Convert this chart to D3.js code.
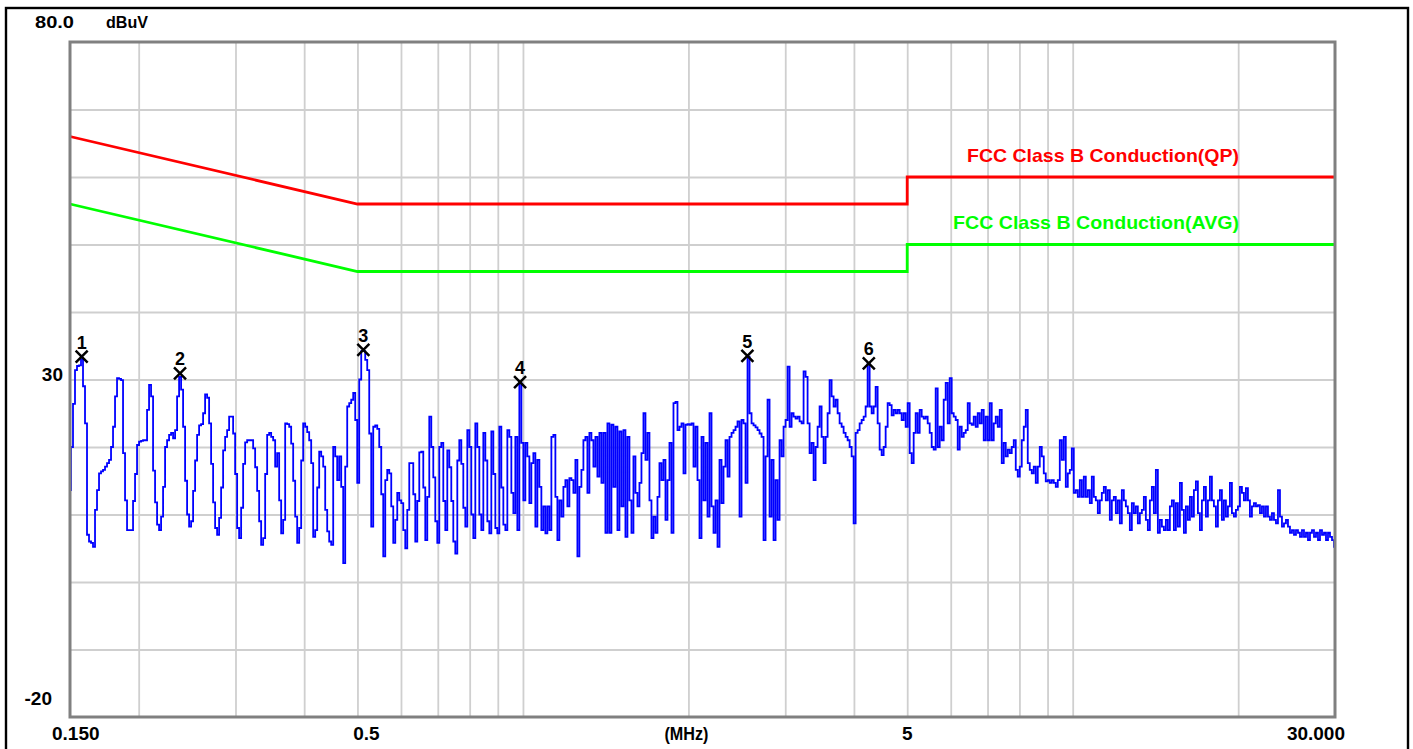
<!DOCTYPE html>
<html><head><meta charset="utf-8">
<script src="https://cdn.jsdelivr.net/npm/d3@7"></script>
<style>
body{margin:0;background:#fff;}
svg{display:block;}
text{font-family:"Liberation Sans",Arial,sans-serif;font-weight:bold;}
</style>
</head><body><svg id="c" width="1413" height="749"></svg>
<script>
// ---- Measured trace levels (dBuV), read left-to-right along the sweep ----
const traceA=[13.6,20,26.4,31.4,32,32.1,33,29,23.5,7,
6,5.8,5.2,10.7,13.6,16.1,16.4,16.6,17.1,17.6,
18.1,20,23,27.5,30.2,30.1,29.9,19.1,12.1,7.7,
7.7,7.7,12,16,20.3,20.8,20.9,21,21,25.5,
29.2,27.5,16.5,11.8,8.5,7.7,9.7,14.1,20,21,
21.8,22.1,21.3,22.5,27.5,30.4,28.5,23,15,10,
8.2,9,13.5,18,21.8,23.2,23.4,25,27.8,27.3,
23.5,17.5,11.8,8,7,9.5,14,19.5,21.5,22.5,
24.5,24.5,22,16,8,6.5,11,17.5,20.7,21,
21,21,19.8,17,13.5,9,5.5,6.5,16,21.8,
22.1,21.5,21,17.1,19.1,12.1,7.2,9.2,23.5,23.4,
23,20.5,15,9.7,5.8];
const traceB=[8,18,23.5,23,22.2,21,17.6,6.7,7.7,14,
19.3,18.6,17.1,10.7,7.5,6,5.5,20,18.6,15.1,
18.6,14.1,2.8,17.1,26,26.5,27,28,24,14.7,
30,34.2,34.2,32.9,31.4,22,8.2,23,23.2,22.7,
20,13,3.8,15.1,16.6,16.1,11.2,5.8,9.2,13.2,
12.1,11.7,7.7,5,10.7,17.6,17.6,13,6,12,
19.2,19.3,14,6.2,12.6,24.5,20,15.5,9,5.8,
20,20.6,12,7.7,19.5,17,12,6,4.2,18,
21,17.5,11,8.2,22.5,20,10,6.5,23.5,20,
10,7.7,22.1,18,9,7.2,22.3,16,8,7.2,
23,14,8.5,7.7,22.5,21.5,13.2,10.2,21.5,7.7,
29.5,20.6,12.1,20.6,18.6,11.7,17.6,19.1,8.2,18.1,
14.1,7.7,11.2,7.2,11.2,7.7,21.5,21.8,12.6,6.2,
12.1,9.7,14.1,15.1,11.2,15.4,15.1,13.2,18.1,3.8,
14.1,16.6,21,21.5,13.2,22.1,21,17.1,21.5,15.6,22.1];
const traceC=[14.7,22.1,7.3,23.5,7.3,23.3,14.1,23,7.7,22.3,
11.2,22.5,6.7,21.5,12.1,7.3,18.6,13.2,11.2,14.7,
19.1,25,18.1,22.1,12.1,6.5,9.7,7.3,12.6,17.6,
15.1,18.1,9.2,15.1,20.6,7.3,26.5,26.7,22.5,23,
23.5,16.1,23.3,23.4,23.3,23.5,17.1,23,15.1,6.5,
21.5,12.1,20.6,9.7,25,11.2,7.3,12.1,5.2,18.1,
11.7,17.1,21,15.6,21.5,22.1,22.5,23,23.8,9.7,
24,23.5,14.7,33.4,25,23.5,23.2,22.9,22.5,22,
21.5,6.2,18.6,27,9.7,18.1,6.2,15.1,9.2,21,
18.6,23,24,31.9,23,25,24.5,24.2,24.5,23.8,
23.5,31.2,30.4,23.5,19.1,20.6,15.1,20,23,26,
21.5,17.6,21.5,25,29.9,27.5,26,27,25,23.5,
23,22.1,21.5,21,20,18.6,8.7,22.1,22.5,23.5,
24,24.5,26,32.4,26,25,26,28.9,23.5,19.6,
18.8,20,23,26.5,26.2,24.7,25.5,25,25.5,25];
const traceD=[24,25,23,26.5,19.1,17.6,22.1,25,22.1,25.5,
24.5,24.2,24.5,23.5,22.1,20,19.6,28.7,20,23,
21,27,29.5,23.5,30.2,25,24.5,24,19.6,23,
21.5,22.1,22.5,26.5,23.5,23.3,24.5,23,25,23.5,
25.5,21,24.5,21,26.5,21,23.5,24.5,23,25.5,
17.6,20.6,18.6,19.6,19.1,20,21,16.6,15.6,17.1,
21,23,25.5,17.6,16.6,16.1,17.1,14.7,17.1,20,
18.6,16.1,14.9,15.1,14.7,15.1,14.7,14.1,15.1,21,
18.1,21.5,14.1,16.1,16.6,19.8,13.2,13.6,12.6,15.1,
12.6,15.6,12.6,13.6,11.7,15.6,12.6,12.1,10.2,12.1,
13.2,14.1,12.1,13.6,9.2,12.1,12.6,10.2,12.1,8.7,
13.6,12.1,11.2,10.2,7.7,11.7,10.2];
const traceE=[11.2,8.7,10.2,10.7,12.6,9.2,7.7,12.1,14.1,10.2,
16.6,7.3,9.2,8.2,7.7,9.2,7.7,11.2,12.1,7.7,
11.7,8.2,14.7,10.7,7.3,11.2,9.2,12.6,9.7,13.6,
14.9,10.2,7.7,12.1,14.1,9.7,12.1,15.6,12.1,11.2,
8.2,12.1,13.6,9.2,12.1,9.7,11.2,14.7,10.2,9.7,
10.7,11.2,14.1,13.2,12.1,13.9,12.1,9.7,11.2,11.7,
11.2,11.4,10.2,11.2,9.7,11.2,9.7,9.2,10.2,9.2,
8.7,13.6,9.7,8.2,8.7,9.2,8.2,7.3,7.7,7,
7.7,7.3,6.7,7.7,6.7,7.3,6.2,7.3,7.7,6.7,
7.3,6.2,7.7,7,7.3,6.2,7.3,6.7,6.2,5.2];
// sweep span (MHz); readings are equally spaced on the log-frequency sweep
const sweepStart=0.15, sweepStop=30;

// ---- Limit lines ----
const qpFreqs=[0.15,0.5,5,5,30];
const qpLevels=[66,56,56,60,60];
const avgFreqs=[0.15,0.5,5,5,30];
const avgLevels=[56,46,46,50,50];
const limitNames=["FCC Class B Conduction(QP)","FCC Class B Conduction(AVG)"];

// ---- Markers ----
const markerLabels=["1","2","3","4","5","6"];
const markerFreqs=[0.1575,0.2378,0.5125,0.988,2.56,4.257];
const markerLevels=[33.4,30.9,34.4,29.6,33.5,32.4];

// ---- Axes ----
const xDomain=[0.15,30], yDomain=[-20,80];
const xTickValues=[0.15,0.5,5,30];
const xTickLabels=["0.150","0.5","5","30.000"];
const xUnit="(MHz)";
const yTickValues=[80,30,-20];
const yTickLabels=["80.0","30","-20"];
const yUnit="dBuV";
const gridFreqs=[0.2,0.3,0.4,0.5,0.6,0.7,0.8,0.9,1,2,3,4,5,6,7,8,9,10,20];
const gridLevels=[-10,0,10,20,30,40,50,60,70];

// ================= drawing =================
const L=70,R=1335,T=42,B=717;
const svg=d3.select("#c");
const x=d3.scaleLog().domain(xDomain).range([L,R]);
const y=d3.scaleLinear().domain(yDomain).range([B,T]);

svg.append("rect").attr("x",6).attr("y",8).attr("width",1402).attr("height",780)
  .attr("fill","none").attr("stroke","#000").attr("stroke-width",2.4);

// grid
const gx=svg.append("g").attr("transform",`translate(0,${B})`)
  .call(d3.axisBottom(x).tickValues(gridFreqs).tickSize(-(B-T)).tickFormat(""));
const gy=svg.append("g").attr("transform",`translate(${L},0)`)
  .call(d3.axisLeft(y).tickValues(gridLevels).tickSize(-(R-L)).tickFormat(""));
[gx,gy].forEach(g=>{g.select(".domain").remove();
  g.selectAll("line").attr("stroke","#cfcfcf").attr("stroke-width",1.8);});

// limit lines
const lim=d3.line().x(d=>x(d[0])).y(d=>y(d[1]));
svg.append("path").datum(qpFreqs.map((f,i)=>[f,qpLevels[i]]))
  .attr("d",lim).attr("fill","none").attr("stroke","#ff0000").attr("stroke-width",2.8);
svg.append("path").datum(avgFreqs.map((f,i)=>[f,avgLevels[i]]))
  .attr("d",lim).attr("fill","none").attr("stroke","#00ff00").attr("stroke-width",2.8);

// trace
const levels=[].concat(traceA,traceB,traceC,traceD,traceE);
const N=levels.length;
const trace=levels.map((v,i)=>[sweepStart*Math.pow(sweepStop/sweepStart,i/(N-1)),v]);
svg.append("path").datum(trace)
  .attr("d",d3.line().x(d=>x(d[0])).y(d=>y(d[1])).curve(d3.curveStep))
  .attr("fill","none").attr("stroke","#0000ff").attr("stroke-width",1.8)
  .attr("stroke-linejoin","miter");

// plot frame
svg.append("rect").attr("x",L).attr("y",T).attr("width",R-L).attr("height",B-T)
  .attr("fill","none").attr("stroke","#808080").attr("stroke-width",3);

// markers
const mk=svg.append("g");
markerFreqs.forEach((f,i)=>{
  const cx=x(f), cy=y(markerLevels[i]);
  mk.append("path").attr("d",`M${cx-6},${cy-6}L${cx+6},${cy+6}M${cx+6},${cy-6}L${cx-6},${cy+6}`)
    .attr("stroke","#000").attr("stroke-width",2.5).attr("fill","none");
  mk.append("text").attr("x",cx).attr("y",cy-8).attr("text-anchor","middle")
    .attr("font-size",18).attr("fill","#000").text(markerLabels[i]);
});

// legend texts
svg.append("text").attr("x",967).attr("y",y(qpLevels[4])-15).attr("font-size",19)
  .attr("fill","#ff0000").attr("textLength",272).attr("lengthAdjust","spacingAndGlyphs").text(limitNames[0]);
svg.append("text").attr("x",953).attr("y",y(avgLevels[4])-16).attr("font-size",19)
  .attr("fill","#00ff00").attr("textLength",286).attr("lengthAdjust","spacingAndGlyphs").text(limitNames[1]);

// y labels
const yLab=[{dx:35,anchor:"start",dy:-14,size:16,len:39},{dx:63,anchor:"end",dy:1.5,size:19,len:0},{dx:52,anchor:"end",dy:-12,size:19,len:0}];
yTickValues.forEach((v,i)=>{
  const t=svg.append("text").attr("x",yLab[i].dx).attr("y",y(v)+yLab[i].dy)
    .attr("text-anchor",yLab[i].anchor).attr("font-size",yLab[i].size).attr("fill","#000").text(yTickLabels[i]);
  if(yLab[i].len) t.attr("textLength",yLab[i].len).attr("lengthAdjust","spacingAndGlyphs");
});
svg.append("text").attr("x",106).attr("y",y(80)-14).attr("font-size",16)
  .attr("textLength",42).attr("lengthAdjust","spacingAndGlyphs").attr("fill","#000").text(yUnit);

// x labels
const xLab=[{dx:-18,anchor:"start"},{dx:9,anchor:"middle"},{dx:0,anchor:"middle"},{dx:10,anchor:"end"}];
xTickValues.forEach((v,i)=>{
  svg.append("text").attr("x",x(v)+xLab[i].dx).attr("y",740).attr("text-anchor",xLab[i].anchor)
    .attr("font-size",19).attr("fill","#000").text(xTickLabels[i]);
});
svg.append("text").attr("x",x(2)-2).attr("y",740).attr("text-anchor","middle").attr("font-size",19)
  .attr("textLength",44).attr("lengthAdjust","spacingAndGlyphs").attr("fill","#000").text(xUnit);
</script>
</body></html>
